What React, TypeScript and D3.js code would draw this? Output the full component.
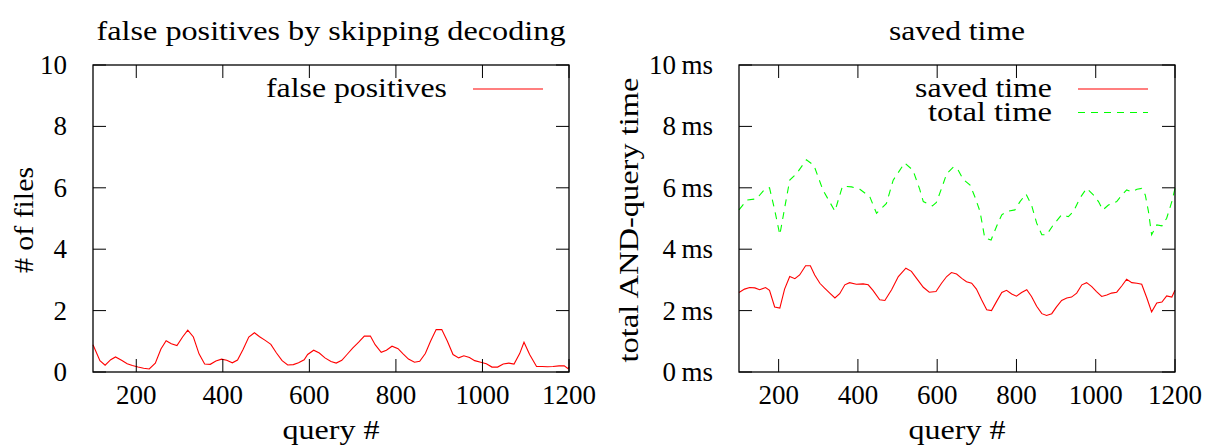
import React from "react";
import * as d3 from "d3";

// ---------- data ----------
const fpQuery = [100,116,128,141,152,166,179,191,204,217,230,244,257,269,281,294,307,319,332,345,358,371,384,397,409,422,434,447,460,473,485,498,511,524,537,550,563,575,588,596,610,623,636,650,662,675,687,700,714,727,741,752,766,778,791,805,816,829,843,855,868,880,893,906,919,932,945,957,970,982,996,1009,1022,1035,1048,1061,1073,1086,1096,1109,1125,1138,1150,1163,1177,1189,1198,1200];
const fpValues = [0.89,0.37,0.22,0.40,0.49,0.38,0.27,0.21,0.16,0.12,0.10,0.29,0.75,1.02,0.92,0.86,1.14,1.36,1.14,0.59,0.26,0.25,0.36,0.42,0.38,0.30,0.39,0.74,1.14,1.28,1.15,1.03,0.90,0.62,0.37,0.23,0.24,0.30,0.40,0.57,0.71,0.62,0.46,0.34,0.29,0.38,0.57,0.78,0.97,1.17,1.17,0.89,0.64,0.71,0.84,0.76,0.60,0.42,0.32,0.35,0.60,1.00,1.38,1.38,1.00,0.57,0.46,0.53,0.47,0.37,0.32,0.27,0.16,0.16,0.26,0.29,0.26,0.60,0.97,0.57,0.18,0.18,0.17,0.18,0.20,0.20,0.11,0.16];

const savedQuery = [100,114,127,140,152,167,177,190,203,215,228,241,253,268,280,291,304,316,329,342,354,367,379,396,413,426,438,455,468,485,502,521,535,548,565,580,597,611,624,636,649,662,674,687,699,712,725,737,750,763,775,788,800,813,826,838,851,864,876,889,901,914,927,939,952,965,977,990,1002,1015,1028,1040,1053,1066,1078,1091,1104,1116,1129,1141,1154,1167,1179,1192,1200];
const savedMs = [2.59,2.70,2.75,2.74,2.68,2.75,2.66,2.12,2.08,2.70,3.11,3.04,3.16,3.46,3.46,3.16,2.89,2.73,2.57,2.41,2.55,2.84,2.91,2.86,2.87,2.84,2.66,2.35,2.33,2.68,3.11,3.38,3.28,3.05,2.76,2.60,2.62,2.89,3.11,3.24,3.19,3.05,2.94,2.89,2.70,2.35,2.03,2.00,2.30,2.59,2.66,2.54,2.47,2.59,2.68,2.46,2.14,1.90,1.84,1.90,2.12,2.33,2.41,2.44,2.57,2.84,2.91,2.78,2.62,2.46,2.51,2.57,2.60,2.81,3.02,2.91,2.89,2.86,2.41,1.96,2.25,2.28,2.48,2.44,2.66];

const totalQuery = [100,120,144,165,177,190,203,215,228,245,270,289,312,342,361,384,405,430,447,472,489,518,539,556,565,588,598,611,624,641,651,666,683,695,708,720,736,750,763,775,796,809,824,838,851,864,876,893,914,931,944,960,977,994,1007,1018,1032,1053,1066,1078,1091,1104,1116,1125,1133,1141,1154,1167,1179,1192,1200];
const totalMs = [5.28,5.60,5.64,5.95,6.00,5.28,4.47,5.33,6.25,6.46,6.91,6.73,5.92,5.24,6.05,6.03,5.95,5.71,5.17,5.49,6.25,6.81,6.57,5.95,5.55,5.41,5.52,5.98,6.46,6.68,6.62,6.27,6.09,5.71,5.23,4.37,4.30,4.75,5.12,5.23,5.28,5.55,5.80,5.44,4.85,4.47,4.47,4.79,5.12,5.06,5.23,5.66,5.98,5.77,5.55,5.28,5.44,5.55,5.77,5.93,5.87,5.95,5.98,5.77,5.23,4.47,4.79,4.76,5.01,5.55,5.98];

const xTicks = [200,400,600,800,1000,1200];
const yTicksLeft = [0,2,4,6,8,10];
const yTicksRight = [0,2,4,6,8,10];

const FONT = "'Liberation Serif', 'Times New Roman', serif";
const FS = 27;

type Pt = [number, number];

function T(p: { x: number; y: number; w?: number; anchor?: string; transform?: string; children: string }) {
  return (
    <text x={p.x} y={p.y} transform={p.transform} textAnchor={p.anchor || "middle"} fontSize={FS} fontFamily={FONT}
      fill="#000" textLength={p.w} lengthAdjust={p.w ? "spacingAndGlyphs" : undefined}>{p.children}</text>
  );
}

function Panel(props: {
  x0: number; x1: number; title: string; titleW: number; yLabel: string; yLabelW: number; yLabelX: number;
  yTicks: number[]; fmt: (v: number) => string; yMax: number; xLabelW: number;
  series: { pts: Pt[]; color: string; dash?: string; label: string; w: number }[];
  legendTextRight: number; legendLine: [number, number];
}) {
  const top = 65, bottom = 372;
  const x = d3.scaleLinear().domain([100, 1200]).range([props.x0, props.x1]);
  const y = d3.scaleLinear().domain([0, props.yMax]).range([bottom, top]);
  const line = d3.line<Pt>().x(d => x(d[0])).y(d => y(d[1]));
  const tl = 13;
  const cx = (props.x0 + props.x1) / 2;
  return (
    <g>
      <T x={cx} y={40} w={props.titleW}>{props.title}</T>
      {props.series.map((s, i) => (
        <path key={i} d={line(s.pts) || ""} fill="none" stroke={s.color} strokeWidth={1.1}
          strokeDasharray={s.dash} />
      ))}
      {props.series.map((s, i) => (
        <g key={"l" + i}>
          <T x={props.legendTextRight - s.w} y={97 + i * 23.5} w={s.w} anchor="start">{s.label}</T>
          <line x1={props.legendLine[0]} x2={props.legendLine[1]} y1={89 + i * 23.5} y2={89 + i * 23.5}
            stroke={s.color} strokeWidth={1.1} strokeDasharray={s.dash} />
        </g>
      ))}
      {xTicks.map(t => (
        <g key={"x" + t}>
          <line x1={x(t)} x2={x(t)} y1={bottom} y2={bottom - tl} stroke="#000" strokeWidth={1} />
          <line x1={x(t)} x2={x(t)} y1={top} y2={top + tl} stroke="#000" strokeWidth={1} />
          <T x={x(t)} y={404}>{String(t)}</T>
        </g>
      ))}
      {props.yTicks.map(t => (
        <g key={"y" + t}>
          <line x1={props.x0} x2={props.x0 + tl} y1={y(t)} y2={y(t)} stroke="#000" strokeWidth={1} />
          <line x1={props.x1} x2={props.x1 - tl} y1={y(t)} y2={y(t)} stroke="#000" strokeWidth={1} />
          <T x={props.x0 - 26} y={y(t) + 9} anchor="end">{props.fmt(t)}</T>
        </g>
      ))}
      <rect x={props.x0} y={top} width={props.x1 - props.x0} height={bottom - top} fill="none" stroke="#000" strokeWidth={1.3} />
      <T x={cx} y={439} w={props.xLabelW}>query #</T>
      <T x={0} y={0} w={props.yLabelW} transform={`translate(${props.yLabelX},220) rotate(-90)`}>{props.yLabel}</T>
    </g>
  );
}

export default function App() {
  const fp: Pt[] = fpQuery.map((q, i) => [q, fpValues[i]]);
  const saved: Pt[] = savedQuery.map((q, i) => [q, savedMs[i]]);
  const total: Pt[] = totalQuery.map((q, i) => [q, totalMs[i]]);
  return (
    <svg width={1213} height={445} style={{ position: "absolute", left: 0, top: 0, background: "#fff" }}>
      <rect width={1213} height={445} fill="#fff" />
      <Panel x0={93} x1={569} title="false positives by skipping decoding" titleW={469}
        yLabel="# of files" yLabelW={106} yLabelX={33} xLabelW={97}
        yTicks={yTicksLeft} fmt={v => String(v)} yMax={10}
        series={[{ pts: fp, color: "#ff0000", label: "false positives", w: 181 }]}
        legendTextRight={447} legendLine={[473, 543]} />
      <Panel x0={739} x1={1175} title="saved time" titleW={136}
        yLabel="total AND-query time" yLabelW={285} yLabelX={638} xLabelW={97}
        yTicks={yTicksRight} fmt={v => `${v}\u2009ms`} yMax={10}
        series={[
          { pts: saved, color: "#ff0000", label: "saved time", w: 137 },
          { pts: total, color: "#00ff00", dash: "7,6", label: "total time", w: 124 },
        ]}
        legendTextRight={1052} legendLine={[1078, 1148]} />
    </svg>
  );
}
